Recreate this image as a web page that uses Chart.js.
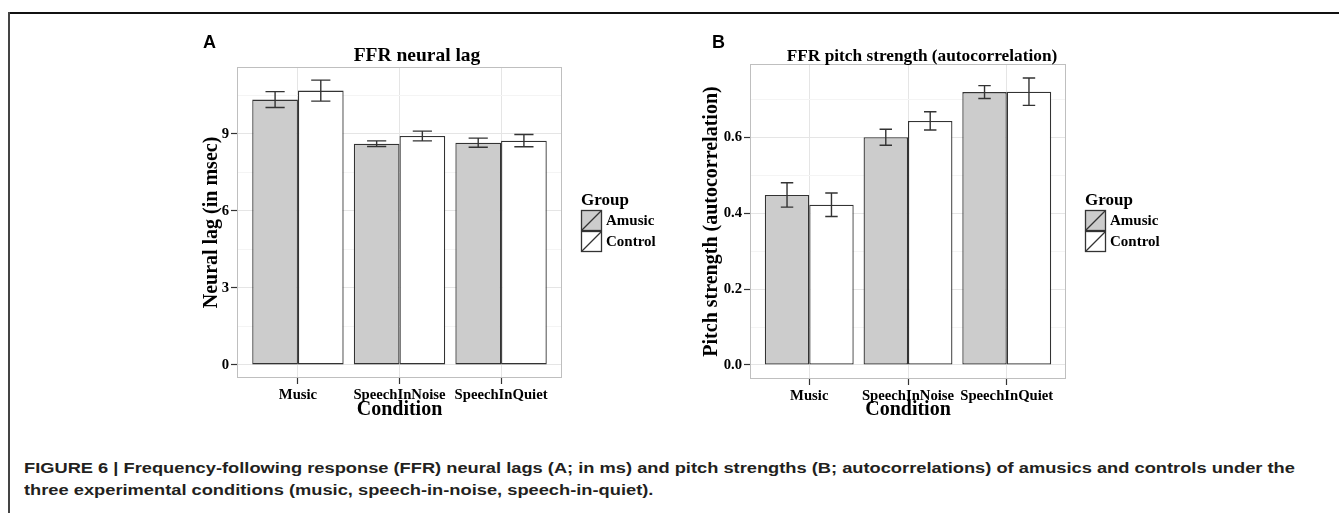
<!DOCTYPE html>
<html>
<head>
<meta charset="utf-8">
<script src="https://cdn.jsdelivr.net/npm/chart.js@4/dist/chart.umd.min.js"></script>
<style>
  html, body { margin: 0; padding: 0; background: #fff; }
  #page { position: relative; width: 1339px; height: 513px; overflow: hidden; }
  #lagChart { position: absolute; left: 0; top: 0; }
  #pitchChart { position: absolute; left: 669px; top: 0; }
  .rule-top { position: absolute; left: 8px; top: 12px; width: 1331px; height: 2px; background: #111; }
  .rule-left { position: absolute; left: 8px; top: 12px; width: 2px; height: 501px; background: #444; }
  #caption {
    position: absolute; left: 24px; top: 457px;
    font: bold 14px "Liberation Sans", Arial, sans-serif; line-height: 22px; color: #231f20;
    white-space: nowrap; transform-origin: 0 0;
  }
  #caption span { display: inline-block; }
</style>
</head>
<body>
<div id="page">
  <div class="rule-top"></div>
  <div class="rule-left"></div>
  <canvas id="lagChart" width="669" height="445"></canvas>
  <canvas id="pitchChart" width="670" height="445"></canvas>
  <div id="caption"><span id="capLine1">FIGURE 6 | Frequency-following response (FFR) neural lags (A; in ms) and pitch strengths (B; autocorrelations) of amusics and controls under the</span><br><span>three experimental conditions (music, speech-in-noise, speech-in-quiet).</span></div>
</div>
<script>
const conditions = ["Music", "SpeechInNoise", "SpeechInQuiet"];
const groups = ["Amusic", "Control"];

// panel A: neural lag (ms), mean and error
const lagAmusic = [10.34, 8.62, 8.66];
const lagAmusicErr = [0.31, 0.11, 0.18];
const lagControl = [10.69, 8.92, 8.74];
const lagControlErr = [0.41, 0.19, 0.24];
const lagTicks = [0, 3, 6, 9];
const lagMinorTicks = [1.5, 4.5, 7.5, 10.5];

// panel B: pitch strength (autocorrelation)
const pitchAmusic = [0.448, 0.600, 0.719];
const pitchAmusicErr = [0.032, 0.021, 0.017];
const pitchControl = [0.422, 0.643, 0.720];
const pitchControlErr = [0.031, 0.024, 0.036];
const pitchTicks = [0, 0.2, 0.4, 0.6];
const pitchMinorTicks = [0.1, 0.3, 0.5, 0.7];

const serif = '"Liberation Serif", "DejaVu Serif", serif';
const sans = '"Liberation Sans", Arial, sans-serif';
const fills = ["#cccccc", "#ffffff"];
const ink = "#333333";

// caption in the figure is set wide; stretch line 1 to its width
const cap = document.getElementById("caption");
cap.style.transform = "scaleX(" + (1271 / document.getElementById("capLine1").offsetWidth) + ")";

const ggPanel = {
  id: "ggPanel",
  beforeDatasetsDraw(chart) {
    const { ctx, chartArea: a } = chart;
    ctx.save();
    ctx.strokeStyle = "#bfbfbf";
    ctx.lineWidth = 1;
    ctx.strokeRect(a.left + 0.5, a.top + 0.5, a.width - 1, a.height - 1);
    ctx.restore();
  },
  afterDatasetsDraw(chart, args, opts) {
    const { ctx } = chart;
    const y = chart.scales.y;
    ctx.save();
    ctx.strokeStyle = ink;
    ctx.lineWidth = 1.4;
    chart.data.datasets.forEach((ds, d) => {
      const meta = chart.getDatasetMeta(d);
      meta.data.forEach((bar, i) => {
        const v = ds.data[i].y, e = opts.errors[d][i];
        const top = y.getPixelForValue(v + e), bot = y.getPixelForValue(v - e);
        const half = bar.width * opts.whisker / 2;
        ctx.beginPath();
        ctx.moveTo(bar.x, top); ctx.lineTo(bar.x, bot);
        ctx.moveTo(bar.x - half, top); ctx.lineTo(bar.x + half, top);
        ctx.moveTo(bar.x - half, bot); ctx.lineTo(bar.x + half, bot);
        ctx.stroke();
      });
    });
    ctx.restore();
  },
  afterDraw(chart, args, opts) {
    const { ctx, chartArea: a } = chart;
    ctx.save();
    ctx.fillStyle = "#000";
    ctx.textBaseline = "alphabetic";
    // panel letter
    ctx.font = "bold 18px " + sans;
    ctx.textAlign = "left";
    ctx.fillText(opts.letter, opts.letterX, 48);
    // plot title
    ctx.font = "bold " + opts.titleSize + "px " + serif;
    ctx.textAlign = "center";
    ctx.fillText(opts.title, opts.titleX, 61);
    // legend
    const lx = a.right + 19, ly = 210, key = 21;
    ctx.textAlign = "left";
    ctx.font = "bold 17px " + serif;
    ctx.fillText("Group", lx, 205);
    ctx.font = "bold 15px " + serif;
    chart.data.datasets.forEach((ds, d) => {
      const ky = ly + d * key;
      ctx.fillStyle = ds.backgroundColor;
      ctx.fillRect(lx, ky, key, key);
      ctx.strokeStyle = ink;
      ctx.lineWidth = 1.3;
      ctx.strokeRect(lx + 0.5, ky + 0.5, key - 1, key - 1);
      ctx.beginPath();
      ctx.moveTo(lx + 1, ky + key - 1);
      ctx.lineTo(lx + key - 1, ky + 1);
      ctx.stroke();
      ctx.fillStyle = "#000";
      ctx.textBaseline = "middle";
      ctx.fillText(ds.label, lx + key + 4, ky + key / 2 + 1);
      ctx.textBaseline = "alphabetic";
    });
    ctx.restore();
  }
};

function makeChart(id, series, majors, minors, yMin, yMax, fmt, yTitle, layout, panel) {
  const datasets = series.map((vals, d) => ({
    label: groups[d],
    data: conditions.map((c, i) => ({ x: i + 1, y: vals[i] })),
    backgroundColor: fills[d],
    borderColor: ink,
    borderWidth: 1.3,
    borderSkipped: false
  }));
  const ticks = [...majors, ...minors].sort((p, q) => p - q);
  return new Chart(document.getElementById(id), {
    type: "bar",
    data: { datasets },
    options: {
      responsive: false,
      animation: false,
      devicePixelRatio: 1,
      categoryPercentage: 0.9,
      barPercentage: 1.0,
      layout: { padding: layout.padding },
      plugins: { legend: { display: false }, tooltip: { enabled: false }, ggPanel: panel },
      scales: {
        x: {
          type: "linear",
          offset: false,
          min: 0.4,
          max: 3.6,
          afterBuildTicks: axis => { axis.ticks = conditions.map((c, i) => ({ value: i + 1 })); },
          afterFit: scale => { scale.height = layout.xHeight; },
          border: { display: false },
          grid: { offset: false, color: "#e5e5e5", lineWidth: 1, tickLength: 6, tickColor: ink, tickWidth: 1.2 },
          ticks: {
            padding: 2,
            color: "#000",
            font: { family: serif, size: 14.7, weight: "bold" },
            callback: v => conditions[v - 1]
          },
          title: {
            display: true, text: "Condition", color: "#000", padding: 0,
            font: { family: serif, size: 20, weight: "bold" }
          }
        },
        y: {
          min: yMin,
          max: yMax,
          afterBuildTicks: axis => { axis.ticks = ticks.map(v => ({ value: v })); },
          afterFit: scale => { scale.width = layout.yWidth; },
          border: { display: false },
          grid: {
            lineWidth: 1,
            tickLength: 6,
            tickWidth: 1.2,
            color: c => (c.tick && minors.includes(c.tick.value)) ? "#f4f4f4" : "#e5e5e5",
            tickColor: c => (c.tick && minors.includes(c.tick.value)) ? "rgba(0,0,0,0)" : ink
          },
          ticks: {
            padding: 2,
            color: "#000",
            font: { family: serif, size: 14.7, weight: "bold" },
            callback: v => majors.includes(v) ? fmt(v) : ""
          },
          title: {
            display: true, text: yTitle, color: "#000", padding: 0,
            font: { family: serif, size: 20, weight: "bold" }
          }
        }
      }
    },
    plugins: [ggPanel]
  });
}

makeChart("lagChart", [lagAmusic, lagControl], lagTicks, lagMinorTicks, -0.51, 11.61,
  v => String(v), "Neural lag (in msec)",
  { padding: { left: 200, right: 107, top: 67, bottom: 23 }, yWidth: 37, xHeight: 44 },
  { letter: "A", letterX: 203, title: "FFR neural lag", titleX: 417, titleSize: 19.5,
    errors: [lagAmusicErr, lagControlErr], whisker: 0.42 });

makeChart("pitchChart", [pitchAmusic, pitchControl], pitchTicks, pitchMinorTicks, -0.037, 0.793,
  v => v.toFixed(1), "Pitch strength (autocorrelation)",
  { padding: { left: 31, right: 273, top: 64, bottom: 23 }, yWidth: 50, xHeight: 43 },
  { letter: "B", letterX: 43, title: "FFR pitch strength (autocorrelation)", titleX: 253, titleSize: 17.3,
    errors: [pitchAmusicErr, pitchControlErr], whisker: 0.28 });
</script>
</body>
</html>
